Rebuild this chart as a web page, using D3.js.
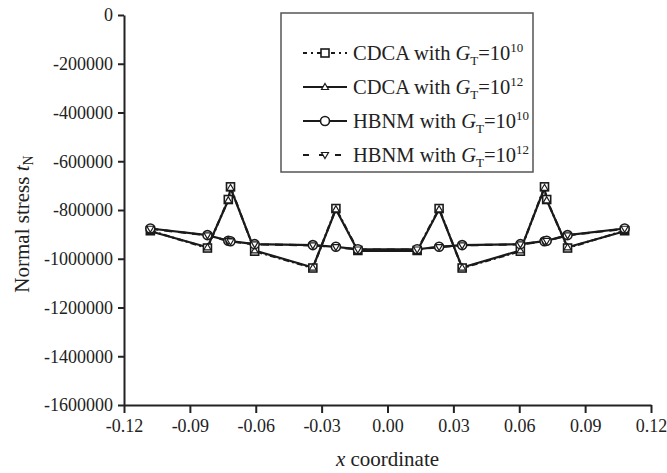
<!DOCTYPE html>
<html>
<head>
<meta charset="utf-8">
<script src="https://cdn.jsdelivr.net/npm/d3@7"></script>
<style>
  body { margin: 0; background: #fff; }
  text { font-family: "Liberation Serif", "Times New Roman", serif; fill: #222; }
</style>
</head>
<body>
<svg id="chart" width="667" height="473"></svg>
<script>
// x positions of the sample points (shared by all series)
const xCoords = [-0.108, -0.082, -0.0725, -0.0715, -0.0605, -0.034, -0.0235, -0.0135,
                  0.0135, 0.0235, 0.034, 0.0605, 0.0715, 0.0725, 0.082, 0.108];

const cdca10 = [-885000, -956000, -757000, -705000, -969000, -1038000, -794000, -966000,
                -966000, -794000, -1038000, -969000, -705000, -757000, -956000, -885000];
const cdca12 = [-887000, -953000, -760000, -709000, -966000, -1036000, -797000, -968000,
                -968000, -797000, -1036000, -966000, -709000, -760000, -953000, -887000];
const hbnm10 = [-876000, -903000, -926000, -928000, -940000, -944000, -951000, -961000,
                -961000, -951000, -944000, -940000, -928000, -926000, -903000, -876000];
const hbnm12 = [-877000, -904000, -927000, -929000, -941000, -945000, -952000, -962000,
                -962000, -952000, -945000, -941000, -929000, -927000, -904000, -877000];

const xTicks = [-0.12, -0.09, -0.06, -0.03, 0.00, 0.03, 0.06, 0.09, 0.12];
const yTicks = [0, -200000, -400000, -600000, -800000, -1000000, -1200000, -1400000, -1600000];

const series = [
  { name: "CDCA", exp: "10", values: cdca10, dash: "6,3,2,3", marker: "square" },
  { name: "CDCA", exp: "12", values: cdca12, dash: null, marker: "triangle" },
  { name: "HBNM", exp: "10", values: hbnm10, dash: null, marker: "circle" },
  { name: "HBNM", exp: "12", values: hbnm12, dash: "8,6", marker: "triangleDown" }
];

const svg = d3.select("#chart");
const margin = { left: 124, right: 16, top: 15, bottom: 68 };
const W = 667, H = 473;

const x = d3.scaleLinear().domain([-0.12, 0.12]).range([margin.left, W - margin.right]);
const y = d3.scaleLinear().domain([-1600000, 0]).range([H - margin.bottom, margin.top]);

// plain hyphen for negatives, like the original figure
const fmtX = d => d.toFixed(2).replace("\u2212", "-");
const fmtY = d => String(d);

// axes
const xAxis = svg.append("g")
  .attr("transform", `translate(0,${H - margin.bottom})`)
  .call(d3.axisBottom(x).tickValues(xTicks).tickFormat(fmtX).tickSize(8).tickSizeOuter(0).tickPadding(6));
const yAxis = svg.append("g")
  .attr("transform", `translate(${margin.left},0)`)
  .call(d3.axisLeft(y).tickValues(yTicks).tickFormat(fmtY).tickSize(6).tickSizeOuter(0).tickPadding(5));

[xAxis, yAxis].forEach(a => {
  a.select(".domain").attr("stroke", "#222").attr("stroke-width", 2);
  a.selectAll(".tick line").attr("stroke", "#222").attr("stroke-width", 2);
  a.selectAll(".tick text").attr("font-size", 18).attr("fill", "#222")
    .style("font-family", '"Liberation Serif", serif');
});

// axis titles
const xt = svg.append("text").attr("x", x(0)).attr("y", 466)
  .attr("text-anchor", "middle").attr("font-size", 21);
xt.append("tspan").attr("font-style", "italic").text("x");
xt.append("tspan").text(" coordinate");

const yt = svg.append("text")
  .attr("transform", `translate(29,${y(-800000) + 14}) rotate(-90)`)
  .attr("text-anchor", "middle").attr("font-size", 21);
yt.append("tspan").text("Normal stress ");
yt.append("tspan").attr("font-style", "italic").text("t");
yt.append("tspan").attr("font-size", 14).attr("dy", 4).text("N");

// lines
const line = d3.line().x((d, i) => x(xCoords[i])).y(d => y(d));
const plot = svg.append("g");
series.forEach(s => {
  plot.append("path").datum(s.values)
    .attr("fill", "none").attr("stroke", "#1a1a1a").attr("stroke-width", 2.2)
    .attr("stroke-dasharray", s.dash)
    .attr("d", line);
});

function drawMarker(g, type, cx, cy) {
  if (type === "square") {
    g.append("rect").attr("x", cx - 4).attr("y", cy - 4).attr("width", 8).attr("height", 8)
      .attr("fill", "#fff").attr("stroke", "#1a1a1a").attr("stroke-width", 1.6);
  } else if (type === "circle") {
    g.append("circle").attr("cx", cx).attr("cy", cy).attr("r", 4.5)
      .attr("fill", "#fff").attr("stroke", "#1a1a1a").attr("stroke-width", 1.6);
  } else if (type === "triangle") {
    g.append("path").attr("d", `M${cx},${cy - 3.5}L${cx + 3.5},${cy + 2.5}L${cx - 3.5},${cy + 2.5}Z`)
      .attr("fill", "#fff").attr("stroke", "#1a1a1a").attr("stroke-width", 1.2);
  } else {
    g.append("path").attr("d", `M${cx},${cy + 3.5}L${cx + 3.5},${cy - 2.5}L${cx - 3.5},${cy - 2.5}Z`)
      .attr("fill", "#fff").attr("stroke", "#1a1a1a").attr("stroke-width", 1.2);
  }
}

series.forEach(s => {
  const g = plot.append("g");
  s.values.forEach((v, i) => drawMarker(g, s.marker, x(xCoords[i]), y(v)));
});

// legend
const leg = svg.append("g");
leg.append("rect").attr("x", 281).attr("y", 13).attr("width", 252).attr("height", 159)
  .attr("fill", "#fff").attr("stroke", "#555").attr("stroke-width", 1.5);
const rowY = [53, 87, 121, 155];
series.forEach((s, i) => {
  const ly = rowY[i];
  leg.append("line").attr("x1", 303).attr("x2", 347).attr("y1", ly).attr("y2", ly)
    .attr("stroke", "#1a1a1a").attr("stroke-width", 2)
    .attr("stroke-dasharray", s.dash ? (i === 0 ? "4,4,2,4" : "6,10") : null);
  drawMarker(leg, s.marker, 325, ly);
  const t = leg.append("text").attr("x", 353).attr("y", ly + 7).attr("font-size", 20.5);
  t.append("tspan").text(s.name + " with ");
  t.append("tspan").attr("font-style", "italic").text("G");
  t.append("tspan").attr("font-size", 13).attr("dy", 5).text("T");
  t.append("tspan").attr("dy", -5).text("=10");
  t.append("tspan").attr("font-size", 13).attr("dy", -8).text(s.exp);
});
</script>
</body>
</html>
